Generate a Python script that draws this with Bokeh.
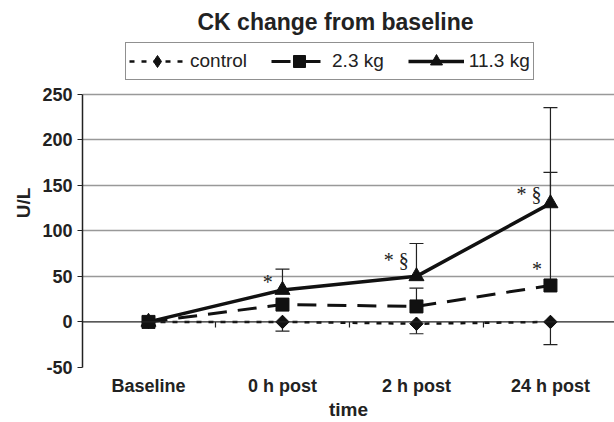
import math
from bokeh.plotting import figure
from bokeh.models import (FixedTicker, Legend, LegendItem, Span, Range1d)
from bokeh.core.properties import value
from bokeh.embed import file_html
from bokeh.resources import INLINE

# ---- data ----
categories = ["Baseline", "0 h post", "2 h post", "24 h post"]
control = [0, 0, -2, 0]
kg2_3 = [0, 19, 17, 40]
kg11_3 = [0, 35, 50, 130]
# error bar ends
control_lower = [None, -10, -13, -25]
kg2_3_upper = [None, None, 37, 164]
kg11_3_upper = [None, 58, 86, 235]
# significance markers
ann_cat = [1, 2, 3, 3]
ann_y = [44, 68, 140, 58]
ann_text = ["*", "* §", "* §", "*"]
ann_dx = [-0.11, -0.15, -0.16, -0.10]
y_ticks = [-50, 0, 50, 100, 150, 200, 250]

x = list(range(len(categories)))

# frame extends above 250 to host the legend box (as in the original layout)
p = figure(width=614, height=422, output_backend="svg", toolbar_location=None,
           x_range=Range1d(-0.4925, 3.478), y_range=Range1d(-50, 310.9),
           min_border_left=82, min_border_right=0, min_border_bottom=0,
           min_border_top=38)
p.outline_line_color = None
p.background_fill_color = "white"
p.border_fill_color = "white"

# title
p.title.text = "CK change from baseline"
p.title.text_font = "Liberation Sans"
p.title.text_font_size = "23px"
p.title.text_font_style = "bold"
p.title.align = "left"
p.title.offset = 115
p.title.standoff = 7
p.title.text_color = "#222222"

# axes
p.xaxis.ticker = FixedTicker(ticks=x)
p.xaxis.major_label_overrides = {i: c for i, c in enumerate(categories)}
p.xaxis.axis_line_color = None
p.xaxis.major_tick_line_color = None
p.xaxis.minor_tick_line_color = None
p.xaxis.major_label_text_font = "Liberation Sans"
p.xaxis.major_label_text_font_style = "bold"
p.xaxis.major_label_text_font_size = "18px"
p.xaxis.major_label_text_color = "#222222"
p.xaxis.major_label_standoff = 2
p.xaxis.axis_label = "time"
p.xaxis.axis_label_text_font = "Liberation Sans"
p.xaxis.axis_label_text_font_style = "bold"
p.xaxis.axis_label_text_font_size = "19px"
p.xaxis.axis_label_text_color = "#222222"
p.xaxis.axis_label_standoff = 0

p.yaxis.ticker = FixedTicker(ticks=y_ticks)
p.yaxis.bounds = (-50, 250)
p.yaxis.major_label_overrides = {t: str(t) for t in y_ticks}
p.yaxis.axis_line_color = "#222222"
p.yaxis.axis_line_width = 1.5
p.yaxis.major_tick_line_color = "#222222"
p.yaxis.major_tick_in = 0
p.yaxis.major_tick_out = 5
p.yaxis.minor_tick_line_color = None
p.yaxis.major_label_text_font = "Liberation Sans"
p.yaxis.major_label_text_font_style = "bold"
p.yaxis.major_label_text_font_size = "18px"
p.yaxis.major_label_text_color = "#222222"
p.yaxis.axis_label = "U/L"
p.yaxis.axis_label_text_font = "Liberation Sans"
p.yaxis.axis_label_text_font_style = "bold"
p.yaxis.axis_label_text_font_size = "19px"
p.yaxis.axis_label_text_color = "#222222"

p.xgrid.grid_line_color = None
p.ygrid.ticker = FixedTicker(ticks=[-50, 50, 100, 150, 200, 250])
p.ygrid.grid_line_color = "#999999"
p.ygrid.grid_line_width = 1.3

# zero (category) axis line
p.add_layout(Span(location=0, dimension="width", line_color="#222222", line_width=1.3))
p.segment(x0=[0.5, 1.5, 2.5], y0=[0, 0, 0], x1=[0.5, 1.5, 2.5], y1=[-6, -6, -6],
          line_color="#222222", line_width=1.2)

# error bars
for vals, ends in [(control, control_lower), (kg2_3, kg2_3_upper), (kg11_3, kg11_3_upper)]:
    xs = [xi for xi, e in zip(x, ends) if e is not None]
    base = [v for v, e in zip(vals, ends) if e is not None]
    en = [e for e in ends if e is not None]
    p.segment(x0=xs, y0=base, x1=xs, y1=en, line_color="#222222", line_width=1.2)
    p.dash(x=xs, y=en, size=14, line_color="#222222", line_width=1.2)

# series
r_c_line = p.line(x, control, line_color="#111111", line_width=2.5, line_dash="5 7")
r_c_leg = p.scatter(x, control, marker="diamond", size=13, color="#111111")
r_c_mark = p.scatter(x, control, marker="square", angle=math.pi / 4, size=9.5, color="#111111")
r_a_line = p.line(x, kg2_3, line_color="#111111", line_width=3, line_dash="19 11")
r_a_mark = p.scatter(x, kg2_3, marker="square", size=13, color="#111111")
r_b_line = p.line(x, kg11_3, line_color="#111111", line_width=3.5)
r_b_mark = p.scatter(x, kg11_3, marker="triangle", size=15, color="#111111")

# annotations
p.text(x=[c + d for c, d in zip(ann_cat, ann_dx)], y=ann_y, text=ann_text,
       text_font=value("Liberation Serif"), text_font_size="20px",
       text_align="center", text_baseline="middle", text_color="#222222")

legend = Legend(items=[
    LegendItem(label="control", renderers=[r_c_line, r_c_leg]),
    LegendItem(label="2.3 kg", renderers=[r_a_line, r_a_mark]),
    LegendItem(label="11.3 kg", renderers=[r_b_line, r_b_mark]),
], orientation="horizontal", location=(43, 287))
legend.label_text_font = "Liberation Sans"
legend.label_text_font_size = "19px"
legend.label_text_color = "#222222"
legend.border_line_color = "#222222"
legend.border_line_width = 1.2
legend.glyph_width = 56
legend.glyph_height = 30
legend.label_standoff = 5
legend.spacing = 24
legend.padding = 3
legend.margin = 0
p.add_layout(legend, "center")

open("out.html", "w").write(file_html(p, INLINE))
